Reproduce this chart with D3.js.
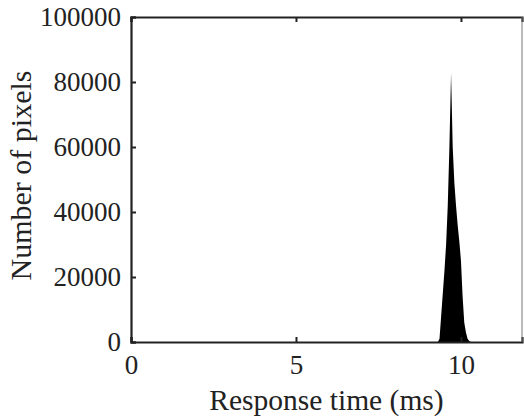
<!DOCTYPE html>
<html>
<head>
<meta charset="utf-8">
<script src="https://cdn.jsdelivr.net/npm/d3@7"></script>
<style>
  body { margin: 0; background: #fff; }
  svg { display: block; font-family: "Liberation Serif", "Times New Roman", serif; }
</style>
</head>
<body>
<svg id="chart" width="524" height="420"></svg>
<script>
// histogram of response times
const times = [9.30, 9.35, 9.40, 9.45, 9.50, 9.55, 9.60, 9.65, 9.70, 9.75, 9.80,
               9.85, 9.90, 9.95, 10.00, 10.05, 10.10, 10.15, 10.20, 10.25, 10.30];
const counts = [0, 1000, 8000, 15000, 22000, 30000, 42000, 60000, 82800, 60000, 49000,
                42000, 36000, 31000, 25000, 14000, 6000, 3000, 1000, 300, 0];
const xTicks = [0, 5, 10];
const yTicks = [0, 20000, 40000, 60000, 80000, 100000];

const data = times.map((t, i) => ({ t: t, n: counts[i] }));

const margin = { top: 17, right: 2, bottom: 78, left: 131 };
const width = 524 - margin.left - margin.right;
const height = 420 - margin.top - margin.bottom;

const svg = d3.select("#chart");
const g = svg.append("g").attr("transform", `translate(${margin.left},${margin.top})`);

const x = d3.scaleLinear().domain([0, 11.85]).range([0, width]);
const y = d3.scaleLinear().domain([0, 100000]).range([height, 0]);

// filled histogram
const area = d3.area()
  .x(d => x(d.t))
  .y0(y(0))
  .y1(d => y(d.n));

g.append("path")
  .datum(data)
  .attr("fill", "#000")
  .attr("d", area);

// axes (ticks inward, MATLAB style)
const xAxis = g.append("g")
  .attr("transform", `translate(0,${height})`)
  .call(d3.axisBottom(x).tickValues(xTicks).tickSize(-5).tickPadding(13));
const xTop = g.append("g")
  .call(d3.axisTop(x).tickValues(xTicks).tickSize(-5).tickFormat(""));
const yAxis = g.append("g")
  .call(d3.axisLeft(y).tickValues(yTicks).tickSize(-5).tickPadding(10).tickFormat(d3.format("d")));

[xAxis, xTop, yAxis].forEach(a => {
  a.select(".domain").attr("stroke", "#222").attr("stroke-width", 2.2);
  a.selectAll(".tick line").attr("stroke", "#222").attr("stroke-width", 2);
  a.selectAll(".tick text").attr("fill", "#222").attr("font-size", 27)
    .attr("font-family", "Liberation Serif, Times New Roman, serif");
});
xAxis.selectAll(".tick text").attr("dy", "0.71em");

// right spine
g.append("line")
  .attr("x1", width).attr("x2", width)
  .attr("y1", 0).attr("y2", height)
  .attr("stroke", "#777").attr("stroke-width", 1);

// labels
svg.append("text")
  .attr("x", margin.left + width / 2)
  .attr("y", 410)
  .attr("text-anchor", "middle")
  .attr("font-size", 29.5)
  .attr("fill", "#222")
  .text("Response time (ms)");

svg.append("text")
  .attr("transform", `translate(31,175.5) rotate(-90)`)
  .attr("text-anchor", "middle")
  .attr("font-size", 30)
  .attr("fill", "#222")
  .text("Number of pixels");
</script>
</body>
</html>
